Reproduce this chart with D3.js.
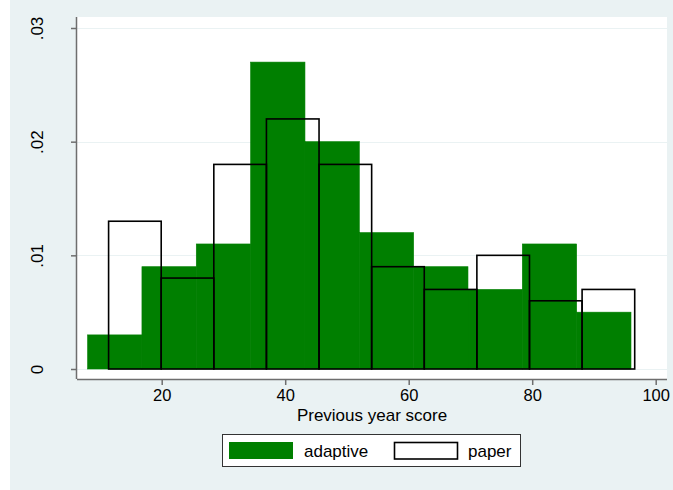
<!DOCTYPE html>
<html>
<head>
<meta charset="utf-8">
<script src="https://cdn.jsdelivr.net/npm/d3@7"></script>
<style>
  body { margin: 0; background: #fff; }
  svg { display: block; font-family: "Liberation Sans", Arial, sans-serif; }
</style>
</head>
<body>
<svg width="673" height="490"></svg>
<script>
// bin edges of each histogram (Previous year score)
const adaptiveStart = 8, adaptiveWidth = 8.8;
const paperStart = 11.4, paperWidth = 8.52;

// densities per bin
const adaptiveValues = [0.003, 0.009, 0.011, 0.027, 0.020, 0.012, 0.009, 0.007, 0.011, 0.005];
const paperValues = [0.013, 0.008, 0.018, 0.022, 0.018, 0.009, 0.007, 0.010, 0.006, 0.007];

const xTicks = [20, 40, 60, 80, 100];
const yTicks = [0, 0.01, 0.02, 0.03];
const yTickLabels = ["0", ".01", ".02", ".03"];

const svg = d3.select("svg");
const width = +svg.attr("width");
const height = +svg.attr("height");

// outer graph region
svg.append("rect").attr("x", 10).attr("y", 0)
  .attr("width", width - 10).attr("height", height)
  .attr("fill", "#eaf2f3");

const plot = { left: 77, right: 667, top: 17, bottom: 379 };
svg.append("rect")
  .attr("x", plot.left).attr("y", plot.top)
  .attr("width", plot.right - plot.left).attr("height", plot.bottom - plot.top)
  .attr("fill", "#fff");

const x = d3.scaleLinear().domain([0, 100]).range([38.2, 655.7]);
const y = d3.scaleLinear().domain([0, 0.03]).range([369, 28]);

// gridlines
svg.append("g").selectAll("line")
  .data(yTicks)
  .join("line")
  .attr("x1", plot.left).attr("x2", plot.right)
  .attr("y1", d => Math.round(y(d)) + 0.5).attr("y2", d => Math.round(y(d)) + 0.5)
  .attr("stroke", "#eaf2f3").attr("stroke-width", 1);

const bins = (vals, start, w) => vals.map((v, i) => ({ x0: start + i * w, x1: start + (i + 1) * w, v }));

// adaptive bars
svg.append("g").selectAll("rect")
  .data(bins(adaptiveValues, adaptiveStart, adaptiveWidth))
  .join("rect")
  .attr("x", d => x(d.x0))
  .attr("y", d => y(d.v))
  .attr("width", d => x(d.x1) - x(d.x0))
  .attr("height", d => y(0) - y(d.v))
  .attr("fill", "#007f00")
  .attr("stroke", "#007f00")
  .attr("stroke-width", 0.6);

// paper bars (outline only)
svg.append("g").selectAll("rect")
  .data(bins(paperValues, paperStart, paperWidth))
  .join("rect")
  .attr("x", d => x(d.x0))
  .attr("y", d => y(d.v))
  .attr("width", d => x(d.x1) - x(d.x0))
  .attr("height", d => y(0) - y(d.v))
  .attr("fill", "none")
  .attr("stroke", "#000")
  .attr("stroke-width", 1.6);

// axes
const axisColor = "#6e6e6e";
const xAxis = svg.append("g").attr("transform", `translate(0,${plot.bottom})`)
  .call(d3.axisBottom(x).tickValues(xTicks).tickSize(6).tickPadding(4));
xAxis.select(".domain").attr("d", `M${plot.left},0.5H${plot.right}`);

const yAxis = svg.append("g").attr("transform", `translate(${plot.left},0)`)
  .call(d3.axisLeft(y).tickValues(yTicks).tickFormat((d, i) => yTickLabels[i]).tickSize(6).tickPadding(4));
yAxis.select(".domain").attr("d", `M-0.5,${plot.top}V${plot.bottom}`);

[xAxis, yAxis].forEach(g => {
  g.selectAll(".domain").attr("stroke", axisColor).attr("stroke-width", 1.5);
  g.selectAll(".tick line").attr("stroke", axisColor).attr("stroke-width", 1.5);
  g.selectAll("text").attr("font-size", 16.5).attr("fill", "#000")
    .attr("font-family", "Liberation Sans, Arial, sans-serif");
});

yAxis.selectAll(".tick text")
  .attr("font-size", 17)
  .attr("transform", "rotate(-90)")
  .attr("x", 0).attr("y", -40)
  .attr("dy", "0.35em")
  .attr("text-anchor", "middle");

// x axis title
svg.append("text")
  .attr("x", (plot.left + plot.right) / 2).attr("y", 421)
  .attr("text-anchor", "middle").attr("font-size", 17)
  .text("Previous year score");

// legend
const legend = svg.append("g");
legend.append("rect").attr("x", 222.5).attr("y", 434.5).attr("width", 298).attr("height", 32)
  .attr("fill", "#fff").attr("stroke", "#333").attr("stroke-width", 1);
legend.append("rect").attr("x", 229).attr("y", 442).attr("width", 64).attr("height", 17)
  .attr("fill", "#007f00");
legend.append("text").attr("x", 304).attr("y", 456.5).attr("font-size", 17).text("adaptive");
legend.append("rect").attr("x", 394.5).attr("y", 442.5).attr("width", 63).attr("height", 16.5)
  .attr("fill", "#fff").attr("stroke", "#000").attr("stroke-width", 1.6);
legend.append("text").attr("x", 468).attr("y", 456.5).attr("font-size", 17).text("paper");
</script>
</body>
</html>
